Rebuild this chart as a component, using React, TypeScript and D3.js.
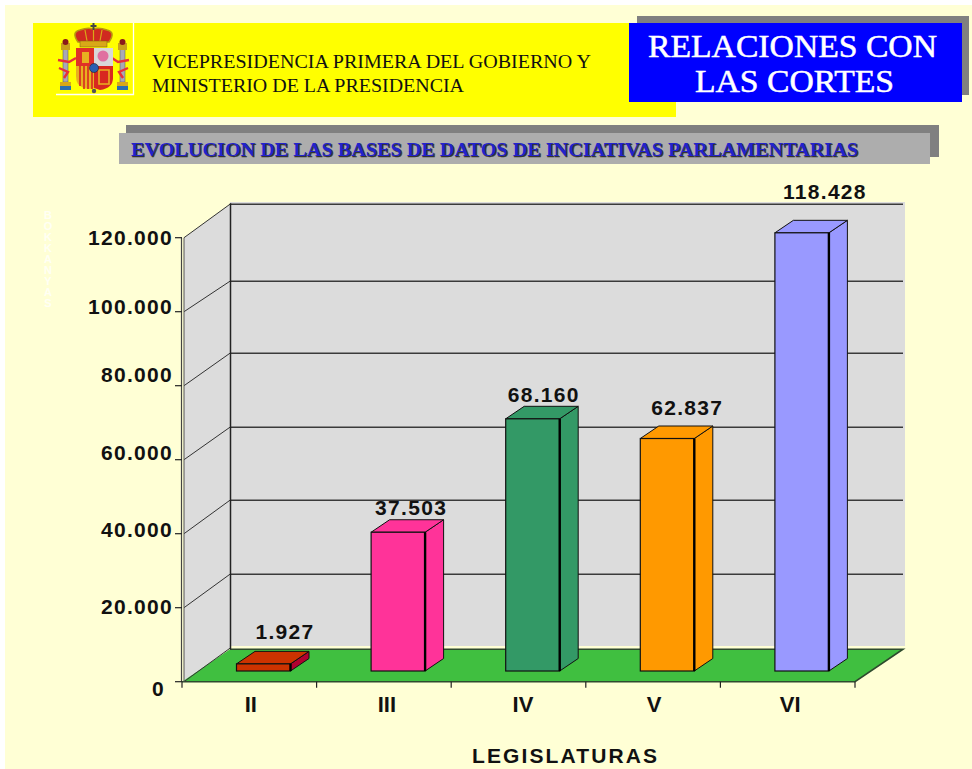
import React from "react";
import * as d3 from "d3";

const categories = ["II", "III", "IV", "V", "VI"];
const values = [1927, 37503, 68160, 62837, 118428];
const valueLabels = ["1.927", "37.503", "68.160", "62.837", "118.428"];
const frontColors = ["#CC3300", "#FF3399", "#339966", "#FF9900", "#9999FF"];
const sideColors = ["#B00030", "#FF3399", "#339966", "#FF9900", "#9999FF"];
const yTicks = [0, 20000, 40000, 60000, 80000, 100000, 120000];
const yTickLabels = ["0", "20.000", "40.000", "60.000", "80.000", "100.000", "120.000"];
const headerLines = ["VICEPRESIDENCIA PRIMERA DEL GOBIERNO Y", "MINISTERIO DE LA PRESIDENCIA"];
const bannerLines = ["RELACIONES CON", "LAS CORTES"];
const chartTitle = "EVOLUCION DE LAS BASES DE DATOS DE INCIATIVAS PARLAMENTARIAS";
const xTitle = "LEGISLATURAS";
const faintAxisLetters = ["B", "O", "K", "K", "A", "N", "Y", "A", "S"];

const SANS = "'Liberation Sans', Arial, sans-serif";
const SERIF = "'Liberation Serif', 'Times New Roman', serif";

const y = d3.scaleLinear().domain([0, 120000]).range([681.7, 237.7]);
const x = d3.scaleBand<string>().domain(categories).range([182, 855]);
const DX = 48;
const DY = -33.5;
const barDx = 18.5;
const barDy = -12.5;
const barW = 54;
const barLift = 10.7;
const barShift = 14.2;
const line = d3.line<[number, number]>();
const closed = (p: [number, number][]) => (line(p) as string) + "Z";

// hand placement offsets, as in the original picture
const tickLabelDy = [14, 6, 3, 0, -4, 2, 7];
const gridBackDy = [0, 0, 0, 1, 1, 3, 0];
const valueLabelCx = [48.5, 40, 38, 47, 50];
const valueLabelGap = [12, 5, 4, 11, 21];
const catLabelDx = [1.5, 3, 4.5, 1, 2.5];

function Arms() {
  return (
    <g>
      <path d="M56 94.5H133.5V23" fill="none" stroke="#fff" strokeWidth={1.3} />
      {[60, 117].map((px) => (
        <g key={px}>
          <rect x={px + 3} y={49} width={5} height={33} fill="#a9a9b5" stroke="#555" strokeWidth={0.5} />
          <rect x={px + 1} y={43} width={9} height={7} fill="#c9a21c" />
          <circle cx={px + 5.5} cy={42} r={3} fill="#8a1a1a" />
          <rect x={px} y={82} width={11} height={4} fill="#d8a818" />
          <rect x={px} y={86} width={11} height={4} fill="#2a6fb0" />
        </g>
      ))}
      <path d="M58 60 L69 62 L76 58 M59 68 L68 72 L64 78" fill="none" stroke="#e8303a" strokeWidth={2.4} />
      <path d="M129 60 L118 62 L112 58 M128 68 L119 72 L123 78" fill="none" stroke="#e8303a" strokeWidth={2.4} />
      <path d="M78 42 Q71 32 80 30 Q88 27 93 29 Q99 27 107 30 Q116 32 109 42Z" fill="#d02a20" stroke="#b8960f" strokeWidth={1.6} />
      <path d="M93.5 29V41M85 30L87 41M102 30L100 41" stroke="#d8a818" strokeWidth={1.2} fill="none" />
      <rect x={80} y={41} width={27} height={6} fill="#d8a818" stroke="#7a5f08" strokeWidth={0.5} />
      <rect x={92.5} y={23} width={2} height={7} fill="#444" />
      <rect x={90.5} y={25} width={6} height={2} fill="#444" />
      <path d="M76 48H94V66H76Z" fill="#e03028" />
      <path d="M94 48H113V66H94Z" fill="#d8d8d8" />
      <path d="M76 66H94V88Q85 91 78 84Q76 81 76 76Z" fill="#e8b020" />
      <path d="M80 66V86M84 66V89M88 66V89M92 66V89" stroke="#d82820" strokeWidth={1.6} />
      <path d="M94 66H113V78Q113 88 100 90L94 88Z" fill="#d82820" />
      <path d="M99 70H109V84H99Z" fill="none" stroke="#e8b020" strokeWidth={1.6} />
      <path d="M82 52H89V63H82Z" fill="#e8b020" />
      <circle cx={103} cy={56} r={5.5} fill="#e070a0" />
      <circle cx={94} cy={68} r={4.5} fill="#2a5fb0" stroke="#222" strokeWidth={0.6} />
      <circle cx={94} cy={91} r={2.2} fill="#555" />
    </g>
  );
}

export default function App() {
  return (
    <svg width={972} height={769} style={{ position: "absolute", left: 0, top: 0 }}>
      <rect width={972} height={769} fill="#fff" />
      <rect x={5} y={5} width={967} height={764} fill="#FFFFD5" />

      {/* header */}
      <rect x={33} y={23} width={643} height={94} fill="#FFFF00" />
      <Arms />
      {headerLines.map((t, i) => (
        <text key={t} x={152} y={68 + i * 24} fontFamily={SERIF} fontSize={18}
          textLength={i === 0 ? 439 : 312} lengthAdjust="spacingAndGlyphs" fill="#111">{t}</text>
      ))}
      <rect x={637} y={16} width={332} height={79} fill="#808080" />
      <rect x={629} y={23} width={333} height={79} fill="#0000FF" />
      {bannerLines.map((t, i) => (
        <text key={t} x={i === 0 ? 648 : 695} y={57 + i * 35} fontFamily={SERIF} fontSize={31}
          textLength={i === 0 ? 289 : 199} lengthAdjust="spacingAndGlyphs" fill="#fff"
          stroke="#fff" strokeWidth={0.5}>{t}</text>
      ))}

      {/* chart title */}
      <rect x={126} y={125} width={813} height={32} fill="#808080" />
      <rect x={119} y={133} width={811} height={31} fill="#ADADAD" />
      <text x={132} y={157} fontFamily={SERIF} fontWeight="bold" fontSize={19} textLength={727}
        lengthAdjust="spacingAndGlyphs" fill="#333" stroke="#333" strokeWidth={0.4}>{chartTitle}</text>
      <text x={131} y={156} fontFamily={SERIF} fontWeight="bold" fontSize={19} textLength={727}
        lengthAdjust="spacingAndGlyphs" fill="#2222CC">{chartTitle}</text>

      {/* faint vertical axis title */}
      {faintAxisLetters.map((c, i) => (
        <text key={i} x={48} y={219 + i * 11} fontFamily={SANS} fontSize={11} fontWeight="bold"
          textAnchor="middle" fill="#fff" fillOpacity={0.75}>{c}</text>
      ))}

      {/* walls */}
      <rect x={230} y={202} width={675} height={444} fill="#DCDCDC" />
      <path d={closed([[184, y(120000)], [184 + DX - 2, y(120000) + DY], [230, 648], [184, y(0)]])} fill="#DCDCDC" />
      <path d={closed([[182, y(0)], [855, y(0)], [903, y(0) + DY + 1], [230, y(0) + DY + 1]])}
        fill="#40BF40" />
      <path d={line([[230, y(0) + DY + 1], [903, y(0) + DY + 1], [855, y(0)], [182, y(0)]]) as string}
        fill="none" stroke="#2e4a2e" strokeWidth={1.6} />

      {/* gridlines */}
      {yTicks.slice(1).map((t, i) => (
        <g key={t}>
          <line x1={230} x2={903} y1={y(t) + DY + gridBackDy[i + 1]} y2={y(t) + DY + gridBackDy[i + 1]} stroke="#3a3a3a" strokeWidth={1.5} />
          <line x1={184} x2={230} y1={y(t)} y2={y(t) + DY + gridBackDy[i + 1]} stroke="#333" strokeWidth={1} />
        </g>
      ))}
      <line x1={230.5} x2={230.5} y1={y(120000) + DY - 1} y2={y(0) + DY + 1} stroke="#222" strokeWidth={1.5} />
      <line x1={184} x2={230} y1={y(0)} y2={y(0) + DY} stroke="#333" strokeWidth={1} />

      {/* y axis */}
      <line x1={181.5} x2={181.5} y1={y(120000)} y2={y(0)} stroke="#444" strokeWidth={1.2} />
      <line x1={184} x2={184} y1={y(120000)} y2={y(0)} stroke="#555" strokeWidth={1} />
      {yTicks.map((t, i) => (
        <g key={t}>
          <line x1={175} x2={182} y1={y(t)} y2={y(t)} stroke="#222" strokeWidth={1.2} />
          <text x={t === 0 ? 165 : 173} y={y(t) + tickLabelDy[i]} textAnchor="end" fontFamily={SANS}
            fontWeight="bold" fontSize={21} letterSpacing={1.3} fill="#111">{yTickLabels[i]}</text>
        </g>
      ))}

      {/* x axis */}
      {[...categories.map((c) => x(c) as number), 855].map((tx) => (
        <line key={tx} x1={tx} x2={tx} y1={y(0)} y2={y(0) + 6} stroke="#222" strokeWidth={1.2} />
      ))}
      {categories.map((c, i) => (
        <text key={c} x={(x(c) as number) + x.bandwidth() / 2 + catLabelDx[i]} y={711.5} textAnchor="middle"
          fontFamily={SANS} fontWeight="bold" fontSize={22} fill="#111">{c}</text>
      ))}
      <text x={472} y={763} fontFamily={SANS} fontWeight="bold" fontSize={21} textLength={185}
        lengthAdjust="spacing" fill="#111">{xTitle}</text>

      {/* bars */}
      {values.map((v, i) => {
        const x0 = (x(categories[i]) as number) + barShift + (x.bandwidth() - barW) / 2;
        const x1 = x0 + barW;
        const base = y(0) - barLift;
        const top = y(v) - barLift;
        return (
          <g key={categories[i]}>
            <path d={closed([[x1, base], [x1, top], [x1 + barDx, top + barDy], [x1 + barDx, base + barDy]])}
              fill={sideColors[i]} stroke="#111" strokeWidth={1} />
            <path d={closed([[x0, top], [x0 + barDx, top + barDy], [x1 + barDx, top + barDy], [x1, top]])}
              fill={frontColors[i]} stroke="#111" strokeWidth={1} />
            <rect x={x0} y={top} width={barW} height={base - top} fill={frontColors[i]} stroke="#111" strokeWidth={1.2} />
            <line x1={x1} x2={x1} y1={top} y2={base} stroke="#000" strokeWidth={2.4} />
            <text x={x0 + valueLabelCx[i]} y={top + barDy - valueLabelGap[i]} textAnchor="middle" fontFamily={SANS}
              fontWeight="bold" fontSize={21} letterSpacing={1.3} fill="#111">{valueLabels[i]}</text>
          </g>
        );
      })}
    </svg>
  );
}
